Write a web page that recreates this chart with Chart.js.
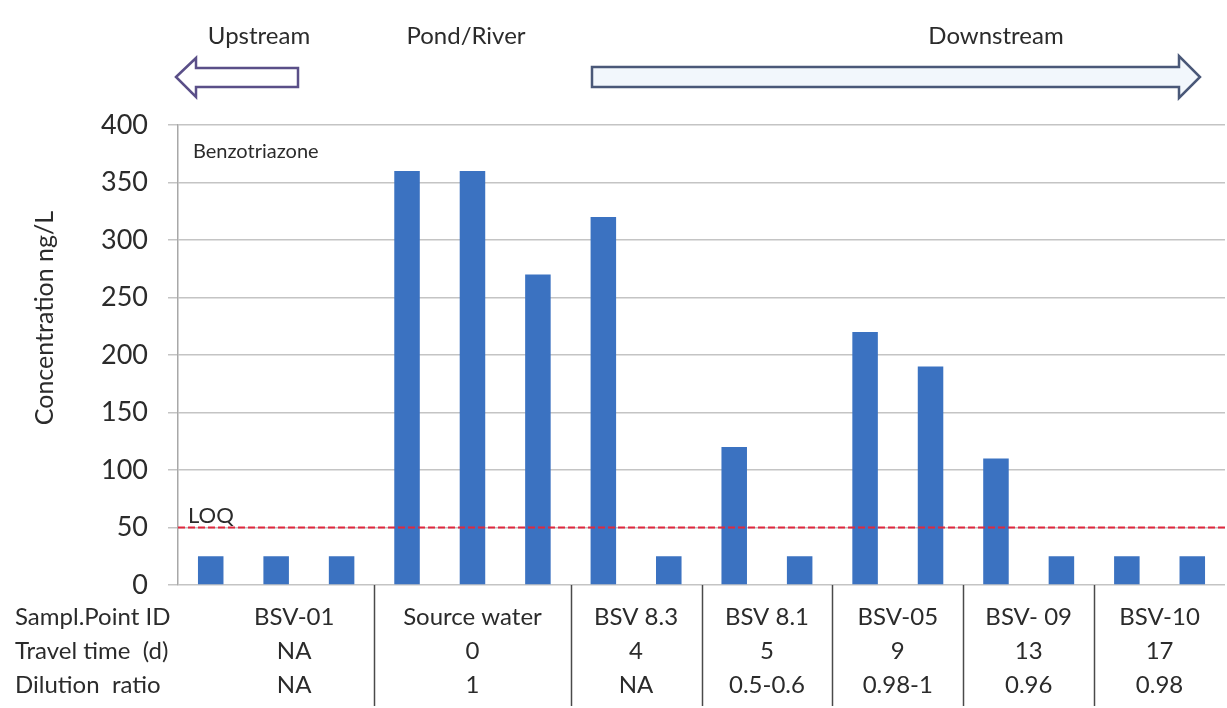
<!DOCTYPE html>
<html>
<head>
<meta charset="utf-8">
<script src="https://cdn.jsdelivr.net/npm/chart.js@4/dist/chart.umd.min.js"></script>
<style>
html,body{margin:0;padding:0;background:#fff;}
#wrap{width:1227px;height:708px;position:relative;}
</style>
</head>
<body>
<div id="wrap"><canvas id="c"></canvas></div>
<script>
// ---- data ----
const categories = ['BSV-01','BSV-01','BSV-01','Source water','Source water','Source water','BSV 8.3','BSV 8.3','BSV 8.1','BSV 8.1','BSV-05','BSV-05','BSV- 09','BSV- 09','BSV-10','BSV-10'];
const concentrations = [25, 25, 25, 360, 360, 270, 320, 25, 120, 25, 220, 190, 110, 25, 25, 25];
const groupNames = ['BSV-01','Source water','BSV 8.3','BSV 8.1','BSV-05','BSV- 09','BSV-10'];
const travelTimes = ['NA','0','4','5','9','13','17'];
const dilutionRatios = ['NA','1','NA','0.5-0.6','0.98-1','0.96','0.98'];
const rowLabels = ['Sampl.Point ID','Travel time  (d)','Dilution  ratio'];
const yMin = 0, yMax = 400, yStep = 50;
const loqValue = 50;
const loqLabel = 'LOQ';
const compoundName = 'Benzotriazone';
const yTitle = 'Concentration ng/L';
const directionLabels = ['Upstream','Pond/River','Downstream'];

const FONT = 'Lato, "Open Sans", sans-serif';
const TXT = '#2b2b2b';

// group runs derived from categories
function groupRuns(){
  const runs = [];
  categories.forEach((c,i)=>{
    if(!runs.length || runs[runs.length-1].name !== c) runs.push({name:c,start:i,end:i});
    else runs[runs.length-1].end = i;
  });
  return runs;
}

const overlay = {
  id:'overlay',
  afterDatasetsDraw(chart){
    const {ctx, chartArea:a, scales:{x,y}} = chart;
    ctx.save();
    // LOQ line
    const yl = y.getPixelForValue(loqValue);
    ctx.strokeStyle = '#e0283e';
    ctx.lineWidth = 2;
    ctx.setLineDash([7,3]);
    ctx.beginPath(); ctx.moveTo(a.left, yl); ctx.lineTo(a.right, yl); ctx.stroke();
    ctx.setLineDash([]);
    ctx.fillStyle = TXT;
    ctx.font = '22px ' + FONT;
    ctx.textAlign = 'left'; ctx.textBaseline = 'alphabetic';
    ctx.fillText(loqLabel, a.left + 10, yl - 5);
    // compound name
    ctx.font = '20px ' + FONT;
    ctx.fillText(compoundName, a.left + 15, a.top + 33);
    ctx.restore();
  },
  afterDraw(chart){
    const {ctx, chartArea:a, scales:{x,y}} = chart;
    ctx.save();
    // y title
    ctx.fillStyle = TXT;
    ctx.font = '25px ' + FONT;
    ctx.textAlign = 'center'; ctx.textBaseline = 'middle';
    ctx.translate(45, 318); ctx.rotate(-Math.PI/2);
    ctx.fillText(yTitle, 0, 0);
    ctx.setTransform(1,0,0,1,0,0);
    // table
    const runs = groupRuns();
    const rowsY = [625, 659, 693];
    ctx.font = '24px ' + FONT;
    ctx.textBaseline = 'alphabetic';
    ctx.textAlign = 'left';
    rowLabels.forEach((t,i)=>ctx.fillText(t, 15, rowsY[i]));
    ctx.textAlign = 'center';
    runs.forEach((r,gi)=>{
      const cx = (x.getPixelForValue(r.start) + x.getPixelForValue(r.end))/2 + (gi===0 ? 18 : 0);
      ctx.fillText(groupNames[gi], cx, rowsY[0]);
      ctx.fillText(travelTimes[gi], cx, rowsY[1]);
      ctx.fillText(dilutionRatios[gi], cx, rowsY[2]);
    });
    // separators
    ctx.strokeStyle = '#4a4a4a';
    ctx.lineWidth = 1.5;
    for(let gi=0; gi<runs.length-1; gi++){
      const bx = Math.round((x.getPixelForValue(runs[gi].end) + x.getPixelForValue(runs[gi+1].start))/2) + 0.5;
      ctx.beginPath(); ctx.moveTo(bx, a.bottom); ctx.lineTo(bx, 706); ctx.stroke();
    }
    // direction labels and arrows
    ctx.font = '24px ' + FONT;
    ctx.textAlign = 'center';
    ctx.fillText(directionLabels[0], 259, 44);
    ctx.fillText(directionLabels[1], 466, 44);
    ctx.fillText(directionLabels[2], 996, 44);
    // upstream arrow (left)
    ctx.lineJoin = 'miter';
    ctx.beginPath();
    ctx.moveTo(176,77); ctx.lineTo(196,58); ctx.lineTo(196,68); ctx.lineTo(298,68);
    ctx.lineTo(298,87); ctx.lineTo(196,87); ctx.lineTo(196,97); ctx.closePath();
    ctx.fillStyle = '#ffffff'; ctx.fill();
    ctx.strokeStyle = '#5a4f88'; ctx.lineWidth = 2.5; ctx.stroke();
    // downstream arrow (right)
    ctx.beginPath();
    ctx.moveTo(592,67); ctx.lineTo(1179,67); ctx.lineTo(1179,56); ctx.lineTo(1200,77);
    ctx.lineTo(1179,98); ctx.lineTo(1179,87); ctx.lineTo(592,87); ctx.closePath();
    ctx.fillStyle = '#f2f7fc'; ctx.fill();
    ctx.strokeStyle = '#4a5878'; ctx.lineWidth = 2.5; ctx.stroke();
    ctx.restore();
  }
};

new Chart(document.getElementById('c'), {
  type:'bar',
  data:{
    labels: categories,
    datasets:[{
      data: concentrations,
      backgroundColor:'#3b72c1',
      borderWidth:0,
      barPercentage:0.39,
      categoryPercentage:1.0
    }]
  },
  options:{
    responsive:true,
    maintainAspectRatio:false,
    animation:false,
    layout:{padding:{top:125, right:2, left:0, bottom:0}},
    plugins:{legend:{display:false}, tooltip:{enabled:false}},
    scales:{
      x:{
        ticks:{display:false},
        grid:{display:false},
        border:{display:false},
        afterFit(s){ s.height = 123; }
      },
      y:{
        min:yMin, max:yMax,
        ticks:{stepSize:yStep, color:TXT, font:{family:FONT, size:27}, padding:20},
        grid:{color:'#c4c4c4', lineWidth:1.5, tickLength:10, drawTicks:true},
        border:{display:true, color:'#a8a8a8', width:1.5},
        afterFit(s){ s.width = 178; }
      }
    }
  },
  plugins:[overlay]
});
</script>
</body>
</html>
